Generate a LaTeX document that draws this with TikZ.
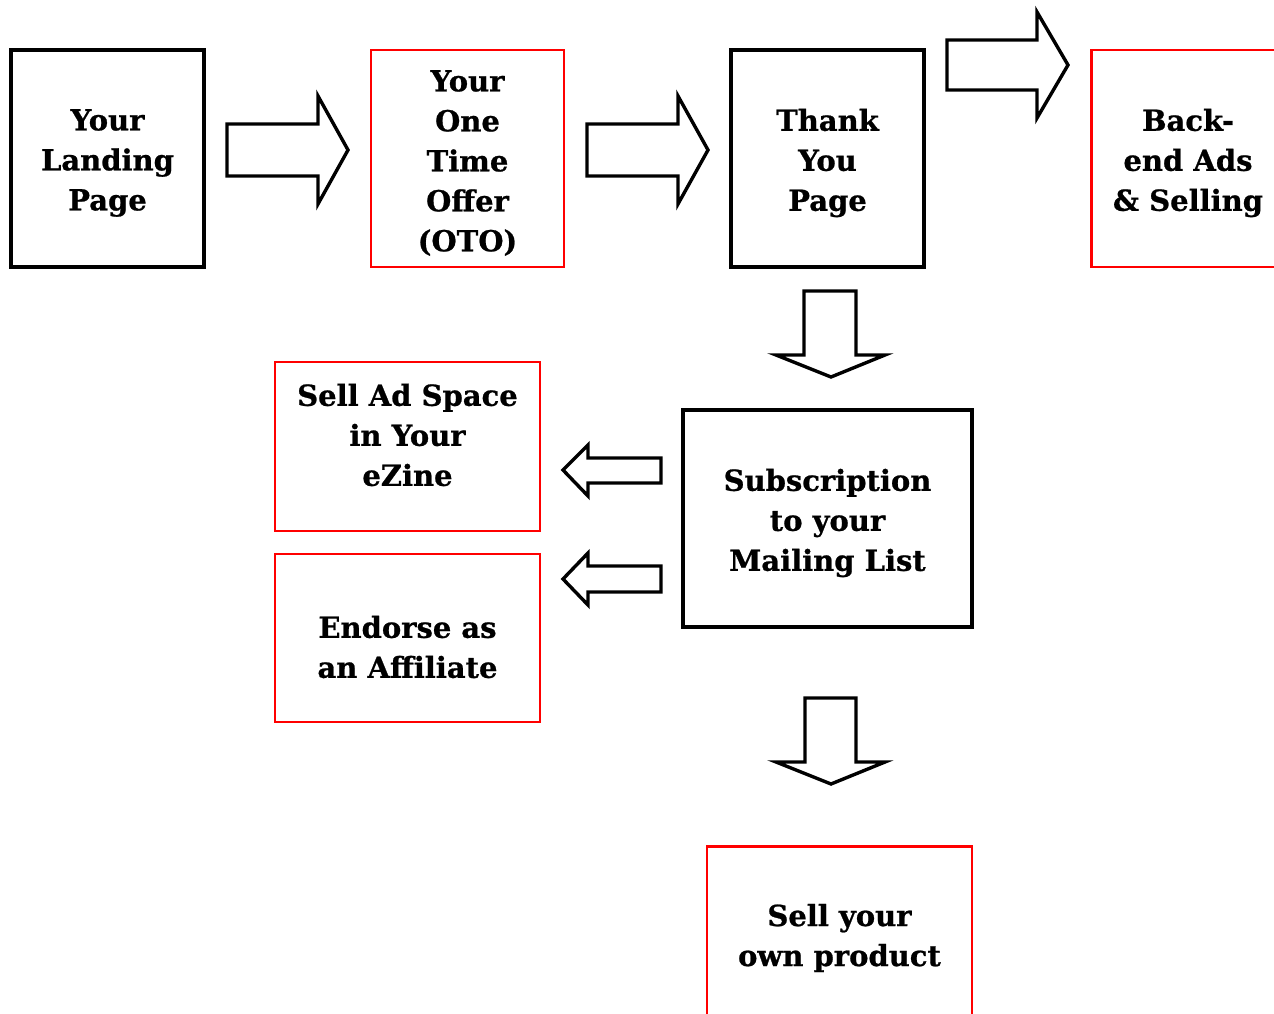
\documentclass[tikz,border=0pt]{standalone}
\usepackage{fontspec}
\setmainfont{DejaVu Serif}[BoldFeatures={FakeBold=0.8}]
\begin{document}
\begin{tikzpicture}[x=1pt,y=-1pt,
  blackbox/.style={draw=black,line width=3.1pt,inner sep=0pt},
  redbox/.style={draw=red,line width=2.9pt,inner sep=0pt},
  txt/.style={font=\fontsize{29}{40}\selectfont\bfseries,align=center,inner sep=0pt},
  fat/.style={draw=black,line width=3.4pt,fill=white,line join=miter}]
\useasboundingbox (0,0) rectangle (1274,1013);
\clip (0,0) rectangle (1274,1013);
% boxes
\node[blackbox,minimum width=193,minimum height=217] (land) at (107.5,158.5) {};
\node[redbox,minimum width=193,minimum height=217] (oto) at (467.5,158.5) {};
\node[blackbox,minimum width=193,minimum height=217] (thank) at (827.5,158.5) {};
\node[redbox,minimum width=200,minimum height=217,anchor=west] (back) at (1090,158.5) {};
\node[redbox,minimum width=265,minimum height=169] (ad) at (407.5,446.5) {};
\node[redbox,minimum width=265,minimum height=168] (endo) at (407.5,638) {};
\node[blackbox,minimum width=289,minimum height=217] (sub) at (827.5,518.5) {};
\node[redbox,minimum width=265,minimum height=200,anchor=north] (sell) at (839.5,845) {};
% texts
\node[txt] (landt) at (107.5,163) {Your\\Landing\\Page};
\node[txt] (otot) at (467.5,163) {Your\\One\\Time\\Offer\\(OTO)};
\node[txt] (thankt) at (827.5,163) {Thank\\You\\Page};
\node[txt] (backt) at (1188,163) {Back-\\end Ads\\\& Selling};
\node[txt] (adt) at (407.5,435) {Sell Ad Space\\in Your\\eZine};
\node[txt] (endot) at (407.5,647) {Endorse as\\an Affiliate};
\node[txt] (subt) at (827.5,523) {Subscription\\to your\\Mailing List};
\node[txt] (sellt) at (839.5,938) {Sell your\\own product};
% block arrows
\coordinate (r1) at (227,150);
\draw[fat] (r1) ++(0,-26) -- (318,124) -- (318,96) -- (348,150) -- (318,204) -- (318,176) -- (227,176) -- cycle;
\coordinate (r2) at (587,150);
\draw[fat] (r2) ++(0,-26) -- (678,124) -- (678,96) -- (708,150) -- (678,204) -- (678,176) -- (587,176) -- cycle;
\coordinate (r3) at (947,65);
\draw[fat] (r3) ++(0,-25) -- (1037,40) -- (1037,12) -- (1068,65) -- (1037,118) -- (1037,90) -- (947,90) -- cycle;
\coordinate (d1) at (830,291);
\draw[fat] (804,291) -- (856,291) -- (856,355) -- (885,355) -- (831,377) -- (776,355) -- (804,355) -- cycle;
\coordinate (d2) at (830,698);
\draw[fat] (805,698) -- (856,698) -- (856,762) -- (885,762) -- (831,784) -- (776,762) -- (805,762) -- cycle;
\coordinate (l1) at (661,470);
\draw[fat] (661,458) -- (661,483) -- (588,483) -- (588,496) -- (563,470) -- (588,445) -- (588,458) -- cycle;
\coordinate (l2) at (661,579);
\draw[fat] (661,566) -- (661,592) -- (588,592) -- (588,605) -- (563,579) -- (588,553) -- (588,566) -- cycle;
\end{tikzpicture}
\end{document}
